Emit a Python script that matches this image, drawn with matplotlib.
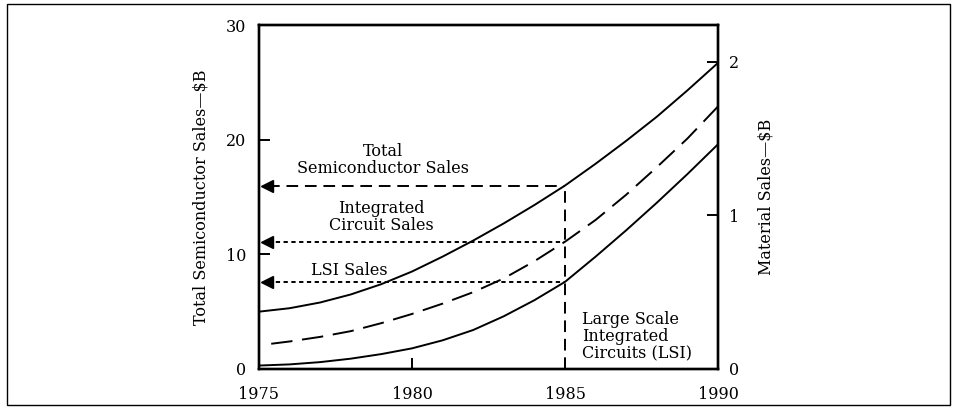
import matplotlib.pyplot as plt
from matplotlib.patches import Rectangle

plt.rcParams['font.family'] = ['DejaVu Serif']

# values ($B)
years = [1975, 1976, 1977, 1978, 1979, 1980, 1981, 1982, 1983, 1984,
         1985, 1986, 1987, 1988, 1989, 1990]
total_sales = [5.0, 5.3, 5.8, 6.5, 7.4, 8.5, 9.8, 11.2, 12.7, 14.3,
               16.0, 17.9, 19.9, 22.0, 24.3, 26.7]
ic_years = [1975.4, 1976, 1977, 1978, 1979, 1980, 1981, 1982, 1983, 1984,
            1985, 1986, 1987, 1988, 1989, 1990]
ic_sales = [2.2, 2.4, 2.8, 3.3, 4.0, 4.8, 5.7, 6.7, 7.9, 9.4,
            11.1, 13.0, 15.2, 17.6, 20.1, 22.9]
lsi_sales = [0.3, 0.4, 0.6, 0.9, 1.3, 1.8, 2.5, 3.4, 4.6, 6.0,
             7.6, 9.8, 12.1, 14.5, 17.0, 19.6]

mark_year = 1985
mark_total = 16.0
mark_ic = 11.1
mark_lsi = 7.6

fig = plt.figure(figsize=(9.57, 4.12), dpi=100)
fig.patches.append(Rectangle((0.007, 0.017), 0.986, 0.973, transform=fig.transFigure,
                             fill=False, edgecolor='black', linewidth=1.0))

ax = fig.add_axes([0.2706, 0.1044, 0.4797, 0.8349])
ax.plot(years, total_sales, color='black', lw=1.4)
ax.plot(ic_years, ic_sales, color='black', lw=1.4, dashes=(11, 5))
ax.plot(years, lsi_sales, color='black', lw=1.4)

# read-off guides at 1985
ax.plot([mark_year, mark_year], [0, mark_total], color='black', lw=1.4, dashes=(6, 3.5))
ax.plot([1975.3, mark_year], [mark_total, mark_total], color='black', lw=1.4, dashes=(6, 3.5))
ax.plot([1975.3, mark_year], [mark_ic, mark_ic], color='black', lw=1.4, dashes=(2.2, 1.8))
ax.plot([1975.3, mark_year], [mark_lsi, mark_lsi], color='black', lw=1.4, dashes=(2.2, 1.8))
for yv in [mark_total, mark_ic, mark_lsi]:
    ax.plot([1975.27], [yv], marker='<', markersize=8, color='black', clip_on=False)

ax.set_xlim(1975, 1990)
ax.set_ylim(0, 30)
ax.set_xticks([1975, 1980, 1985, 1990])
ax.set_yticks([0, 10, 20, 30])
ax.tick_params(direction='in', length=8, width=1.4, labelsize=11.5)
ax.tick_params(axis='x', pad=12)
ax.tick_params(axis='y', pad=9)
for s in ax.spines.values():
    s.set_linewidth(1.7)
ax.set_ylabel('Total Semiconductor Sales\u2014\\$B', fontsize=11.5, labelpad=12)

ax2 = ax.twinx()
ax2.set_ylim(0, 2.24)
ax2.set_yticks([0, 1, 2])
ax2.tick_params(direction='in', length=8, width=1.4, labelsize=11.5, pad=8)
ax2.set_ylabel('Material Sales\u2014\\$B', fontsize=11.5, labelpad=13)
for s in ax2.spines.values():
    s.set_linewidth(1.7)

ax.text(1979.05, 18.2, 'Total\nSemiconductor Sales', ha='center', va='center',
        fontsize=11.5, linespacing=1.0)
ax.text(1979.0, 13.25, 'Integrated\nCircuit Sales', ha='center', va='center',
        fontsize=11.5, linespacing=1.0)
ax.text(1977.95, 8.6, 'LSI Sales', ha='center', va='center', fontsize=11.5)
ax.text(1985.55, 2.8, 'Large Scale\nIntegrated\nCircuits (LSI)', ha='left', va='center',
        fontsize=11.5, linespacing=1.0)

fig.savefig('out.png', dpi=100)
